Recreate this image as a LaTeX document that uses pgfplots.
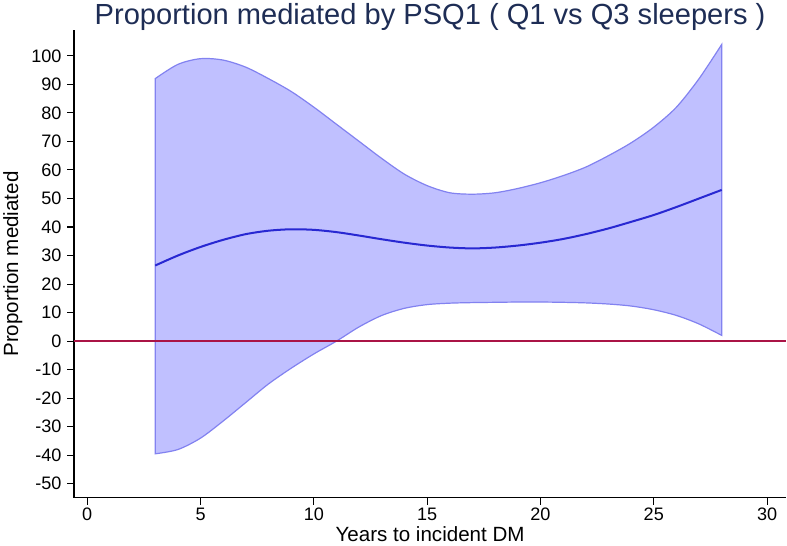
\documentclass[border=0pt]{standalone}
\usepackage{pgfplots}
\pgfplotsset{compat=1.18}
\usepgfplotslibrary{fillbetween}
\usepackage{fontspec}
\setmainfont{Liberation Sans}
\definecolor{bandfill}{RGB}{192,192,255}
\definecolor{bandedge}{RGB}{130,130,240}
\definecolor{meanline}{RGB}{40,40,210}
\definecolor{zeroline}{RGB}{170,20,70}
\definecolor{titlecol}{RGB}{30,45,85}
\begin{document}
\begin{tikzpicture}
\begin{axis}[
  width=710pt, height=466pt, scale only axis,
  xmin=-0.58, xmax=30.84, ymin=-54.9, ymax=108.9,
  axis x line*=bottom, axis y line*=left,
  axis line style={line width=1.3pt, black},
  tick align=outside, major tick length=7pt,
  tick style={line width=1.1pt, black},
  xtick={0,5,...,30}, ytick={-50,-40,...,100},
  /pgf/number format/assume math mode=true,
  ticklabel style={font=\fontsize{18}{18}\selectfont},
  yticklabel style={xshift=-2pt},
  label style={font=\fontsize{20.5}{20.5}\selectfont},
  xlabel={Years to incident DM},
  ylabel={Proportion mediated},
  ylabel style={yshift=2pt},
  xlabel style={yshift=1pt},
  title={Proportion mediated by PSQ1 ( Q1 vs Q3 sleepers )},
  title style={font=\fontsize{29}{29}\selectfont, color=titlecol, at={(0.5,1)}, anchor=base, yshift=0pt},
  clip=false,
]
\addplot[name path=U, draw=none, smooth, forget plot] coordinates {
(3,92) (4,97) (5,99) (6,98.5) (7,96) (8,92) (9,87.5) (10,82) (11,76) (12,70) (13,64) (14,58.5) (15,54.5) (16,52) (17,51.5) (18,52) (19,53.5) (20,55.5) (21,58) (22,61) (23,65) (24,69.5) (25,75) (26,82) (27,92) (28,104)};
\addplot[name path=L, draw=none, smooth, forget plot] coordinates {
(3,-39.5) (4,-38) (5,-34) (6,-28) (7,-21.5) (8,-15) (9,-9.5) (10,-4.5) (11,0) (12,5) (13,9) (14,11.5) (15,12.8) (16,13.3) (17,13.5) (18,13.6) (19,13.7) (20,13.7) (21,13.6) (22,13.4) (23,13) (24,12.3) (25,11) (26,9) (27,6) (28,2)};
\addplot[fill=bandfill, draw=bandedge, line width=1.2pt] fill between[of=U and L];
\addplot[zeroline, line width=1.8pt] coordinates {(-0.58,0) (30.84,0)};
\addplot[meanline, line width=2pt, smooth] coordinates {
(3,26.5) (4,30) (5,33) (6,35.5) (7,37.5) (8,38.7) (9,39.2) (10,39) (11,38.2) (12,37) (13,35.7) (14,34.5) (15,33.5) (16,32.8) (17,32.5) (18,32.8) (19,33.5) (20,34.5) (21,35.8) (22,37.5) (23,39.5) (24,41.8) (25,44.2) (26,47) (27,50) (28,53)};
\end{axis}
\end{tikzpicture}
\end{document}
